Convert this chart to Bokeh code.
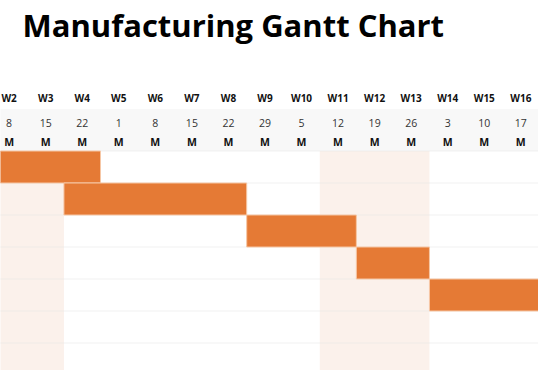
from bokeh.plotting import figure
from bokeh.models import Range1d, ColumnDataSource, Label
from bokeh.core.properties import value
from bokeh.embed import file_html
from bokeh.resources import INLINE

# ---------------- data ----------------
title = "Manufacturing Gantt Chart"
weeks = ["W2", "W3", "W4", "W5", "W6", "W7", "W8",
         "W9", "W10", "W11", "W12", "W13", "W14", "W15", "W16"]
dates = ["8", "15", "22", "1", "8", "15", "22",
         "29", "5", "12", "19", "26", "3", "10", "17"]
days = ["M"] * 15
first_week = 1          # W2 starts one week after week-boundary 0 (start of W1)

# tasks: week boundary where the bar starts (0 = start of W1) and ends
task_row = [0, 1, 2, 3, 4]
task_start = [0, 3, 8, 11, 13]
task_end = [4, 8, 11, 13, 16]
n_rows = 7

# highlighted (shaded) week spans
shade_start = [0, 10]
shade_end = [3, 13]

# ---------------- layout constants ----------------
W, H = 538, 370
col_w = 36.55          # px per week
x0_px = -46.2          # pixel position of week-boundary 0
body_top = 150.5       # pixel of the first task row top
row_h = 32.0

x_rng = Range1d((0 - x0_px) / col_w, (W - x0_px) / col_w)
y_rng = Range1d((H - body_top) / row_h, (0 - body_top) / row_h)

def ry(px):
    return (px - body_top) / row_h

p = figure(width=W, height=H, x_range=x_rng, y_range=y_rng,
           output_backend="svg", toolbar_location=None,
           x_axis_location=None, y_axis_location=None,
           min_border=0, outline_line_color=None,
           background_fill_color="white", border_fill_color="white",
           styles={"position": "absolute", "left": "0px", "top": "0px"})
p.xgrid.visible = False
p.ygrid.visible = False

FONT = value("Open Sans")
n_w = len(weeks)

# header grey band (dates + day letters)
p.quad(left=[0], right=[first_week + n_w], top=[ry(108.5)], bottom=[0],
       fill_color="#F8F8F8", line_color=None)

# shaded week columns in the body
p.quad(left=shade_start, right=shade_end,
       top=[0] * len(shade_start), bottom=[n_rows + 1] * len(shade_start),
       fill_color="#FBF1EB", line_color=None)

# row separator lines
rows_b = list(range(0, n_rows + 2))
p.segment(x0=[0] * len(rows_b), x1=[first_week + n_w + 1] * len(rows_b),
          y0=rows_b, y1=rows_b, line_color="#E6E6E6", line_alpha=0.55,
          line_width=1)

# task bars
src = ColumnDataSource(dict(left=task_start, right=task_end,
                            top=task_row,
                            bottom=[r + 1 for r in task_row]))
p.quad(left="left", right="right", top="top", bottom="bottom", source=src,
       fill_color="#E57A35", line_color="#F6C7A6", line_width=1)

# header texts
xc = [first_week + i + 0.5 for i in range(n_w)]
p.text(x=xc, y=[ry(97.5)] * n_w, text=weeks,
       text_font=FONT, text_font_style="bold", text_font_size="10px",
       text_color="#111111", text_align="center", text_baseline="middle")
p.text(x=xc, y=[ry(122)] * n_w, text=dates,
       text_font=FONT, text_font_size="10.5px",
       text_color="#333333", text_align="center", text_baseline="middle")
p.text(x=xc, y=[ry(141)] * n_w, text=days,
       text_font=FONT, text_font_style="bold", text_font_size="10.5px",
       text_color="#111111", text_align="center", text_baseline="middle")

# title
p.add_layout(Label(x=22, y=H - 24, x_units="screen", y_units="screen",
                   text=title, text_font="Open Sans", text_font_style="bold",
                   text_font_size="31px", text_color="#000000",
                   text_baseline="alphabetic"))

open("out.html", "w").write(file_html(p, INLINE))
